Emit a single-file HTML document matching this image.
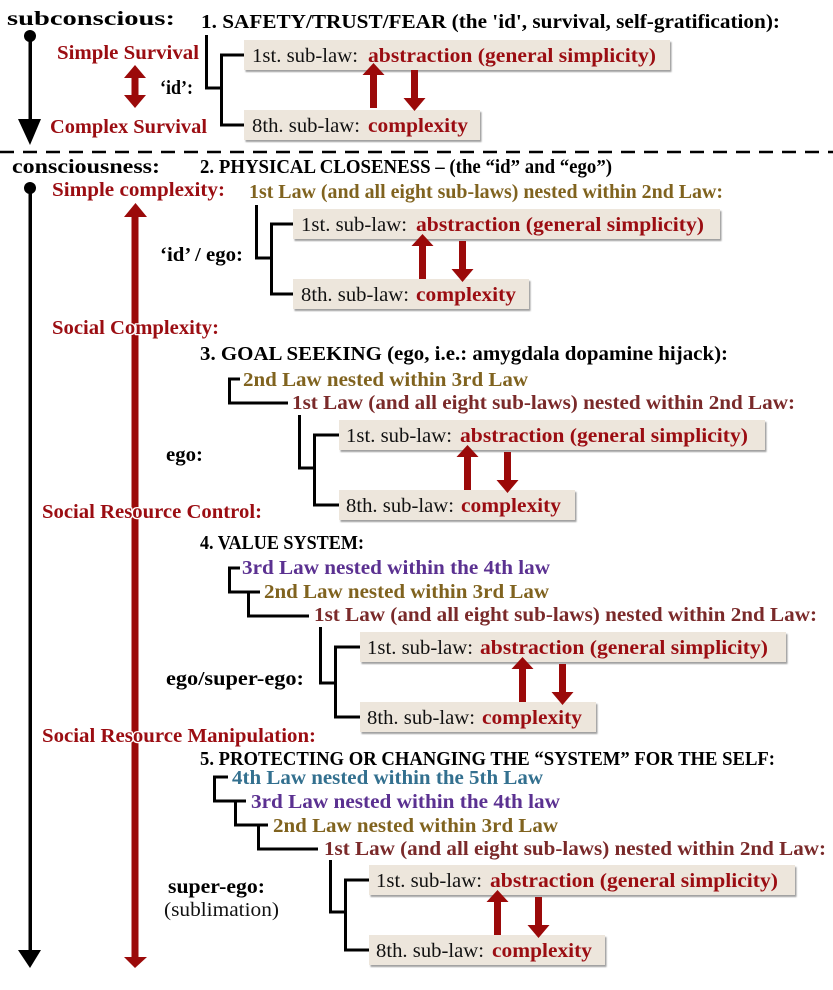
<!DOCTYPE html>
<html><head><meta charset="utf-8"><style>
html,body{margin:0;padding:0;background:#fff;}
svg{display:block;}
text{font-family:"Liberation Serif",serif;}
.b{font-weight:bold;font-size:19.5px;}
.r{font-size:19.5px;fill:#111;}
.k{fill:#000;}
.red{fill:#9b0d12;}
.gold{fill:#80631f;}
.mar{fill:#7a2a2a;}
.pur{fill:#5b3191;}
.blu{fill:#33708f;}
.halo{stroke:#fff;stroke-width:2.5px;paint-order:stroke;stroke-linejoin:round;}
</style></head><body>
<svg width="833" height="990" viewBox="0 0 833 990" xmlns="http://www.w3.org/2000/svg">
<defs>
<filter id="sh" x="-5%" y="-20%" width="110%" height="150%"><feDropShadow dx="1.5" dy="2" stdDeviation="0.8" flood-color="#888" flood-opacity="0.8"/></filter>
<g id="up"><rect x="-3.5" y="12" width="7" height="33" fill="#9b0a0a"/><polygon points="-11,12 11,12 0,0" fill="#9b0a0a"/></g>
<g id="dn"><rect x="-3.5" y="0" width="7" height="28" fill="#9b0a0a"/><polygon points="-11,28 11,28 0,41" fill="#9b0a0a"/></g>
</defs>

<!-- red long axis -->
<rect x="131.5" y="215" width="7" height="743" fill="#9b0a0a"/>
<polygon points="124,217 147,217 135.5,203" fill="#9b0a0a"/>
<polygon points="124,957 147,957 135,968" fill="#9b0a0a"/>

<text x="7" y="25" class="b k" font-size="21" textLength="168" lengthAdjust="spacingAndGlyphs">subconscious:</text>
<circle cx="30" cy="36" r="6" fill="#000"/>
<rect x="28.5" y="36" width="3.5" height="84" fill="#000"/>
<polygon points="18,119 41,119 30,145" fill="#000"/>
<text x="57" y="59" class="b red" textLength="142" lengthAdjust="spacingAndGlyphs">Simple Survival</text>
<rect x="131.5" y="76" width="7" height="21" fill="#9b0a0a"/>
<polygon points="124,78 146,78 135,65" fill="#9b0a0a"/>
<polygon points="124,95 146,95 135,108" fill="#9b0a0a"/>
<text x="160" y="94" class="b k" textLength="33" lengthAdjust="spacingAndGlyphs">‘id’:</text>
<text x="50" y="133" class="b red" textLength="157" lengthAdjust="spacingAndGlyphs">Complex Survival</text>

<text x="201" y="28" class="b k" textLength="579" lengthAdjust="spacingAndGlyphs">1. SAFETY/TRUST/FEAR (the 'id', survival, self-gratification):</text>

<line x1="0" y1="152" x2="833" y2="152" stroke="#000" stroke-width="2.5" stroke-dasharray="14,9"/>

<text x="12" y="173" class="b k" font-size="21" textLength="148" lengthAdjust="spacingAndGlyphs">consciousness:</text>
<text x="200" y="173" class="b k" textLength="412" lengthAdjust="spacingAndGlyphs">2. PHYSICAL CLOSENESS – (the “id” and “ego”)</text>
<circle cx="30" cy="188" r="6" fill="#000"/>
<rect x="28.5" y="188" width="3.5" height="765" fill="#000"/>
<polygon points="18,950 41,950 30,968" fill="#000"/>

<text x="52" y="196" class="b red" textLength="173" lengthAdjust="spacingAndGlyphs">Simple complexity:</text>
<text x="249" y="198" class="b gold" textLength="474" lengthAdjust="spacingAndGlyphs">1st Law (and all eight sub-laws) nested within 2nd Law:</text>
<text x="160" y="261" class="b k" textLength="83" lengthAdjust="spacingAndGlyphs">‘id’ / ego:</text>

<text x="52" y="334" class="b red halo" textLength="167" lengthAdjust="spacingAndGlyphs">Social Complexity:</text>
<text x="200" y="360" class="b k" textLength="528" lengthAdjust="spacingAndGlyphs">3. GOAL SEEKING (ego, i.e.: amygdala dopamine hijack):</text>
<text x="243" y="386" class="b gold" textLength="285" lengthAdjust="spacingAndGlyphs">2nd Law nested within 3rd Law</text>
<text x="292" y="409" class="b mar" textLength="503" lengthAdjust="spacingAndGlyphs">1st Law (and all eight sub-laws) nested within 2nd Law:</text>
<polyline points="240,379 229.5,379 229.5,403 288,403" fill="none" stroke="#000" stroke-width="3"/>
<text x="166" y="461" class="b k" textLength="37" lengthAdjust="spacingAndGlyphs">ego:</text>

<text x="42" y="518" class="b red halo" textLength="220" lengthAdjust="spacingAndGlyphs">Social Resource Control:</text>
<text x="200" y="549" class="b k" textLength="164" lengthAdjust="spacingAndGlyphs">4. VALUE SYSTEM:</text>
<text x="242" y="574" class="b pur" textLength="308" lengthAdjust="spacingAndGlyphs">3rd Law nested within the 4th law</text>
<text x="264" y="598" class="b gold" textLength="285" lengthAdjust="spacingAndGlyphs">2nd Law nested within 3rd Law</text>
<text x="314" y="621" class="b mar" textLength="503" lengthAdjust="spacingAndGlyphs">1st Law (and all eight sub-laws) nested within 2nd Law:</text>
<polyline points="240,568 229.5,568 229.5,592 260,592" fill="none" stroke="#000" stroke-width="3"/>
<polyline points="248.5,592 248.5,616 309,616" fill="none" stroke="#000" stroke-width="3"/>
<text x="166" y="685" class="b k" textLength="138" lengthAdjust="spacingAndGlyphs">ego/super-ego:</text>

<text x="42" y="742" class="b red halo" textLength="274" lengthAdjust="spacingAndGlyphs">Social Resource Manipulation:</text>
<text x="200" y="765" class="b k" textLength="575" lengthAdjust="spacingAndGlyphs">5. PROTECTING OR CHANGING THE “SYSTEM” FOR THE SELF:</text>
<text x="232" y="784" class="b blu" textLength="311" lengthAdjust="spacingAndGlyphs">4th Law nested within the 5th Law</text>
<text x="251" y="808" class="b pur" textLength="309" lengthAdjust="spacingAndGlyphs">3rd Law nested within the 4th law</text>
<text x="273" y="832" class="b gold" textLength="285" lengthAdjust="spacingAndGlyphs">2nd Law nested within 3rd Law</text>
<text x="324" y="855" class="b mar" textLength="502" lengthAdjust="spacingAndGlyphs">1st Law (and all eight sub-laws) nested within 2nd Law:</text>
<polyline points="228,777 214.5,777 214.5,801 246,801" fill="none" stroke="#000" stroke-width="3"/>
<polyline points="235.5,801 235.5,825 268,825" fill="none" stroke="#000" stroke-width="3"/>
<polyline points="258.5,825 258.5,849 318,849" fill="none" stroke="#000" stroke-width="3"/>
<text x="168" y="893" class="b k" textLength="97" lengthAdjust="spacingAndGlyphs">super-ego:</text>
<text x="164" y="916" class="r" textLength="115" lengthAdjust="spacingAndGlyphs">(sublimation)</text>

<!-- 1 -->
<polyline points="206.5,35 206.5,88 221.5,88" fill="none" stroke="#000" stroke-width="3"/>
<polyline points="244,55 221.5,55 221.5,125 244,125" fill="none" stroke="#000" stroke-width="3"/>
<rect x="244" y="40" width="426" height="30" fill="#ede6dc" filter="url(#sh)"/>
<rect x="244" y="110" width="236" height="30" fill="#ede6dc" filter="url(#sh)"/>
<text x="252" y="62" class="r" textLength="106" lengthAdjust="spacingAndGlyphs">1st. sub-law:</text>
<text x="368" y="62" class="b red" textLength="288" lengthAdjust="spacingAndGlyphs">abstraction (general simplicity)</text>
<text x="252" y="132" class="r" textLength="108" lengthAdjust="spacingAndGlyphs">8th. sub-law:</text>
<text x="368" y="132" class="b red" textLength="100" lengthAdjust="spacingAndGlyphs">complexity</text>
<use href="#up" x="373.5" y="63"/>
<use href="#dn" x="414.5" y="70"/>

<!-- 2 -->
<polyline points="256.5,205 256.5,258 271.5,258" fill="none" stroke="#000" stroke-width="3"/>
<polyline points="293,224 271.5,224 271.5,294 293,294" fill="none" stroke="#000" stroke-width="3"/>
<rect x="293" y="209" width="427" height="30" fill="#ede6dc" filter="url(#sh)"/>
<rect x="293" y="279" width="236" height="30" fill="#ede6dc" filter="url(#sh)"/>
<text x="301" y="231" class="r" textLength="106" lengthAdjust="spacingAndGlyphs">1st. sub-law:</text>
<text x="416" y="231" class="b red" textLength="288" lengthAdjust="spacingAndGlyphs">abstraction (general simplicity)</text>
<text x="301" y="301" class="r" textLength="108" lengthAdjust="spacingAndGlyphs">8th. sub-law:</text>
<text x="416" y="301" class="b red" textLength="100" lengthAdjust="spacingAndGlyphs">complexity</text>
<use href="#up" x="422.5" y="234"/>
<use href="#dn" x="462.5" y="241"/>

<!-- 3 -->
<polyline points="299.5,415 299.5,468 314.5,468" fill="none" stroke="#000" stroke-width="3"/>
<polyline points="339,435 314.5,435 314.5,505 339,505" fill="none" stroke="#000" stroke-width="3"/>
<rect x="339" y="420" width="426" height="30" fill="#ede6dc" filter="url(#sh)"/>
<rect x="339" y="490" width="236" height="30" fill="#ede6dc" filter="url(#sh)"/>
<text x="346" y="442" class="r" textLength="106" lengthAdjust="spacingAndGlyphs">1st. sub-law:</text>
<text x="460" y="442" class="b red" textLength="288" lengthAdjust="spacingAndGlyphs">abstraction (general simplicity)</text>
<text x="346" y="512" class="r" textLength="108" lengthAdjust="spacingAndGlyphs">8th. sub-law:</text>
<text x="461" y="512" class="b red" textLength="100" lengthAdjust="spacingAndGlyphs">complexity</text>
<use href="#up" x="467.5" y="445"/>
<use href="#dn" x="507.5" y="452"/>

<!-- 4 -->
<polyline points="320.5,627 320.5,683 335.5,683" fill="none" stroke="#000" stroke-width="3"/>
<polyline points="360,647 335.5,647 335.5,717 360,717" fill="none" stroke="#000" stroke-width="3"/>
<rect x="360" y="632" width="426" height="30" fill="#ede6dc" filter="url(#sh)"/>
<rect x="360" y="702" width="236" height="30" fill="#ede6dc" filter="url(#sh)"/>
<text x="367" y="654" class="r" textLength="106" lengthAdjust="spacingAndGlyphs">1st. sub-law:</text>
<text x="480" y="654" class="b red" textLength="288" lengthAdjust="spacingAndGlyphs">abstraction (general simplicity)</text>
<text x="367" y="724" class="r" textLength="108" lengthAdjust="spacingAndGlyphs">8th. sub-law:</text>
<text x="482" y="724" class="b red" textLength="100" lengthAdjust="spacingAndGlyphs">complexity</text>
<use href="#up" x="522.5" y="657"/>
<use href="#dn" x="562.5" y="664"/>

<!-- 5 -->
<polyline points="330.5,860 330.5,912 345.5,912" fill="none" stroke="#000" stroke-width="3"/>
<polyline points="369,880 345.5,880 345.5,950 369,950" fill="none" stroke="#000" stroke-width="3"/>
<rect x="369" y="865" width="426" height="30" fill="#ede6dc" filter="url(#sh)"/>
<rect x="369" y="935" width="236" height="30" fill="#ede6dc" filter="url(#sh)"/>
<text x="376" y="887" class="r" textLength="106" lengthAdjust="spacingAndGlyphs">1st. sub-law:</text>
<text x="490" y="887" class="b red" textLength="288" lengthAdjust="spacingAndGlyphs">abstraction (general simplicity)</text>
<text x="376" y="957" class="r" textLength="108" lengthAdjust="spacingAndGlyphs">8th. sub-law:</text>
<text x="492" y="957" class="b red" textLength="100" lengthAdjust="spacingAndGlyphs">complexity</text>
<use href="#up" x="497.5" y="890"/>
<use href="#dn" x="538.5" y="897"/>
</svg>
</body></html>
